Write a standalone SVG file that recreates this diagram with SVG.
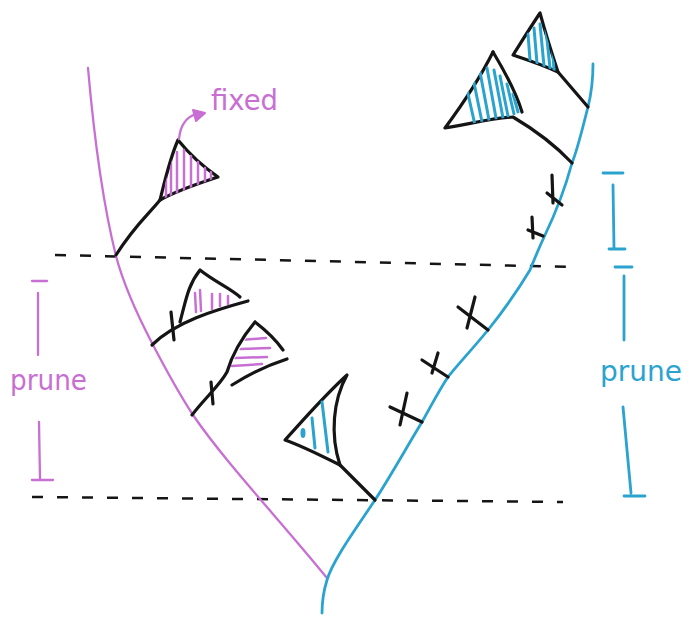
<svg xmlns="http://www.w3.org/2000/svg" width="690" height="621" viewBox="0 0 690 621">
<style>
.ink{fill:none;stroke:#151515;stroke-width:3.2;stroke-linecap:round;stroke-linejoin:round}
.mag{fill:none;stroke:#c86fd3;stroke-width:2.3;stroke-linecap:round;stroke-linejoin:round}
.blu{fill:none;stroke:#2aa3cf;stroke-width:2.8;stroke-linecap:round;stroke-linejoin:round}
.hm{fill:none;stroke:#c86fd3;stroke-width:2.5;stroke-linecap:round}
.hb{fill:none;stroke:#2aa3cf;stroke-width:3;stroke-linecap:round}
.dash{fill:none;stroke:#151515;stroke-width:2.5;stroke-dasharray:11 14}
.txt{font-family:"DejaVu Sans","Liberation Sans",sans-serif;font-size:28px}
</style>
<defs>
<clipPath id="cF"><path d="M178,140 L218,177 L160,200 Z"/></clipPath>
<clipPath id="c2"><path d="M200,270 L240,297 L248,301 L180,322 Z"/></clipPath>
<clipPath id="c3"><path d="M255,322 L283,350 L287,359 L232,385 L227,372 Z"/></clipPath>
<clipPath id="cA"><path d="M540,13 L553,57 L558,72 L513,55 Z"/></clipPath>
<clipPath id="cB"><path d="M493,52 L522,112 L510,117 L445,128 Z"/></clipPath>
</defs>
<rect width="690" height="621" fill="#ffffff"/>

<g id="guides">
<path class="dash" d="M55,255 L575,267"/>
<path class="dash" d="M32,497 L563,502"/>
</g>

<g id="magenta-stem">
<path class="mag" d="M88,68 C93,125 102,200 116,256 C125,290 140,320 152,343 C165,368 178,392 193,415 C225,462 280,520 327,578"/>
</g>

<g id="blue-stem">
<path class="blu" d="M593,64 C593,80 591,95 588,107 C582,130 578,148 572,163 C566,185 558,208 545,235 C538,250 534,260 530,270 C515,295 500,315 488,330 C470,352 458,364 448,377 C438,392 430,408 422,422 C405,450 390,477 375,500 C355,530 333,560 327,580 C323,593 322,603 322,613"/>
</g>

<g id="flag-fixed">
<path class="ink" d="M178,140 C190,155 205,168 218,177 C200,183 178,190 160,200 C165,180 170,158 178,140 Z"/>
<path class="ink" d="M160,200 C148,215 135,225 116,255"/>
<g clip-path="url(#cF)">
<path class="hm" d="M166,168 L166,198 M171,160 L171,196 M177,152 L177,194 M184,150 L184,190 M191,156 L191,188 M198,162 L198,186 M205,168 L205,184 M211,172 L211,180"/>
</g>
<path class="mag" d="M179,139 C180,128 184,118 196,114"/>
<path d="M193,110 L205,113 L196,121 Z" fill="#c86fd3" stroke="#c86fd3" stroke-width="2" stroke-linejoin="round"/>
</g>

<g id="label-fixed">
<text class="txt" x="211" y="110" fill="#c86fd3" textLength="67" lengthAdjust="spacingAndGlyphs">fixed</text>
</g>

<g id="flag-pruned-1">
<path class="ink" d="M200,270 C188,285 186,300 180,322 M200,270 C215,282 230,288 240,297"/>
<path class="ink" d="M248,301 C215,310 175,322 152,345"/>
<path class="ink" d="M171,312 L174,340"/>
<g clip-path="url(#c2)">
<path class="hm" d="M195,293 L196,312 M200,290 L201,311 M212,294 L212,309 M220,294 L220,306 M228,296 L228,304"/>
</g>
</g>

<g id="flag-pruned-2">
<path class="ink" d="M255,322 C240,340 232,355 227,372 C220,385 205,398 192,415 M255,322 C268,332 276,340 283,350"/>
<path class="ink" d="M287,359 C265,366 248,375 232,385"/>
<path class="ink" d="M211,382 L213,404"/>
<g clip-path="url(#c3)">
<path class="hm" d="M240,340 L266,338 M240,349 L270,348 M235,358 L267,357 M232,366 L262,364"/>
</g>
</g>

<g id="flag-blue-bottom">
<path class="ink" d="M347,375 C333,400 330,435 340,465 C320,455 300,445 285,440 C305,418 325,395 347,375 Z"/>
<path class="ink" d="M340,465 L375,500"/>
<ellipse cx="303" cy="433" rx="2.5" ry="5" fill="#2aa3cf"/>
<path class="hb" d="M312,418 L315,448 M322,402 L328,452"/>
</g>

<g id="flag-blue-a">
<path class="ink" d="M540,13 C530,28 520,44 513,55 C528,60 545,66 558,72 C553,57 546,35 540,13 Z"/>
<path class="ink" d="M558,72 L588,107"/>
<g clip-path="url(#cA)">
<path class="hb" d="M528,34 L530,60 M534,28 L537,63 M540,24 L544,66 M546,30 L550,68 M552,40 L554,70"/>
</g>
</g>

<g id="flag-blue-b">
<path class="ink" d="M493,52 C480,78 462,105 445,128 C470,124 492,118 513,117 C535,130 555,145 572,163"/>
<path class="ink" d="M493,52 C505,72 516,92 522,112"/>
<g clip-path="url(#cB)">
<path class="hb" d="M466,85 L475,125 M473,78 L482,122 M480,72 L489,120 M487,68 L496,118 M494,70 L503,118 M500,76 L508,116 M507,84 L514,114 M513,94 L518,112"/>
</g>
</g>

<g id="pruned-stubs-blue">
<path class="ink" d="M552,175 L553,203 M547,193 L562,205"/>
<path class="ink" d="M532,217 L533,238 M528,230 L543,236"/>
<path class="ink" d="M458,307 L488,330 M475,297 L467,328"/>
<path class="ink" d="M422,360 L448,377 M438,353 L432,373"/>
<path class="ink" d="M390,407 L422,422 M407,393 L400,425"/>
</g>

<g id="prune-left">
<path class="mag" d="M32,281 L47,281 M38,293 L38,355 M39,422 L40,479 M32,480 L53,480"/>
<text class="txt" x="10" y="390" fill="#c86fd3" textLength="77" lengthAdjust="spacingAndGlyphs">prune</text>
</g>

<g id="prune-right">
<path class="blu" d="M603,173 L623,173 M613,185 L614,248 M609,249 L625,249 M615,267 L632,267 M624,276 L624,340 M623,407 L631,493 M624,496 L645,496"/>
<text class="txt" x="600" y="381" fill="#2aa3cf" textLength="82" lengthAdjust="spacingAndGlyphs">prune</text>
</g>
</svg>
